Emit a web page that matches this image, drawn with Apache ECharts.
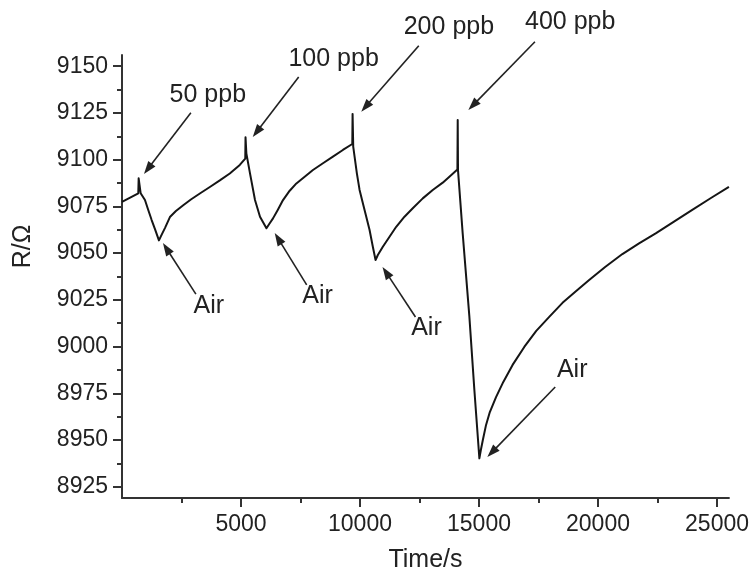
<!DOCTYPE html>
<html><head><meta charset="utf-8">
<script src="https://cdn.jsdelivr.net/npm/echarts@6/dist/echarts.min.js"></script>
<style>html,body{margin:0;padding:0;background:#fff}#c{width:752px;height:578px}</style>
</head><body><div id="c"></div>
<script>
// ---- data ----
const timeS = [0, 684, 700, 784, 965, 1103, 1246, 1397, 1552,
  1678, 1803, 2013, 2265, 2559, 2894, 3271, 3691, 4110, 4529, 4949, 5179,
  5190, 5225, 5378, 5588, 5798,
  6069, 6207, 6345, 6555, 6765, 7046, 7327, 7675, 8023, 8443, 8862, 9281, 9676,
  9688, 9715, 9772, 9868, 9982, 10120, 10263, 10402, 10539, 10653,
  10749, 10959, 11240, 11521, 11869, 12217, 12637, 13056, 13476, 13756, 14092,
  14105, 14118, 14314, 14595, 14805, 15015,
  15077, 15161, 15296, 15455, 15715, 16021, 16411, 16902, 17405, 17950, 18508, 19083,
  19628, 20299, 21024, 21724, 22424, 23192, 23960, 24745, 25500];
const resistance = [9077.4, 9082.0, 9090.0, 9082.0, 9078.4, 9073.1, 9067.7, 9062.4, 9056.8,
  9060.2, 9063.4, 9069.3, 9072.5, 9075.5, 9078.7, 9081.9, 9085.4, 9088.9, 9092.6, 9097.2, 9100.6,
  9112.0, 9103.4, 9092.7, 9078.4, 9069.5,
  9063.3, 9066.0, 9068.6, 9073.4, 9078.4, 9083.4, 9087.3, 9090.9, 9094.5, 9098.1, 9101.6, 9105.2, 9108.4,
  9124.5, 9107.0, 9101.6, 9092.7, 9083.8, 9076.7, 9069.5, 9062.4, 9053.4, 9046.3,
  9049.0, 9053.4, 9058.8, 9064.1, 9069.5, 9074.0, 9079.3, 9083.8, 9087.7, 9090.9, 9094.7,
  9121.2, 9094.3, 9060.6, 9016.0, 8976.8, 8940.2,
  8944.7, 8950.0, 8958.1, 8965.0, 8973.0, 8981.1, 8990.2, 8999.8, 9008.4, 9015.9, 9023.4, 9029.7,
  9035.6, 9042.6, 9049.5, 9055.2, 9060.6, 9066.9, 9073.1, 9079.5, 9085.5];

const xTickValues = [5000, 10000, 15000, 20000, 25000];
const xMinorTickValues = [2500, 7500, 12500, 17500, 22500];
const yTickValues = [8925, 8950, 8975, 9000, 9025, 9050, 9075, 9100, 9125, 9150];
const yMinorTickValues = [8937.5, 8962.5, 8987.5, 9012.5, 9037.5, 9062.5, 9087.5, 9112.5, 9137.5];

const annoTexts = ['50 ppb', '100 ppb', '200 ppb', '400 ppb', 'Air', 'Air', 'Air', 'Air'];
const annoTextX = [3607, 8891, 13735, 18831, 3649, 8220, 12792, 18915];
const annoTextY = [9134.6, 9153.9, 9171.0, 9173.7, 9021.7, 9027.1, 9010.0, 8987.5];
const arrowFromX = [2894, 7423, 12469, 17350, 3104, 7759, 12330, 18202];
const arrowFromY = [9125.1, 9144.2, 9161.0, 9163.1, 9028.1, 9033.0, 9015.8, 8978.4];
const arrowToX = [923, 5494, 10053, 14553, 1720, 6417, 10946, 15350];
const arrowToY = [9092.3, 9112.1, 9125.7, 9126.6, 9055.4, 9060.8, 9042.6, 8940.9];

const FONT = '"Liberation Sans", Arial, Helvetica, sans-serif';
const TXT = '#222';

const chart = echarts.init(document.getElementById('c'));
const seriesData = timeS.map((t, i) => [t, resistance[i]]);
const plain = v => String(v);

const axisLineStyle = { color: '#333', width: 2 };
chart.setOption({
  animation: false,
  backgroundColor: '#fff',
  grid: { left: 122, right: 22, top: 55, bottom: 80, containLabel: false },
  xAxis: [{
    type: 'value', min: 0, max: 25500, position: 'bottom',
    axisLine: { show: true, onZero: false, lineStyle: axisLineStyle },
    axisTick: { show: true, customValues: xTickValues, length: 9, lineStyle: { color: '#333', width: 2 } },
    axisLabel: { customValues: xTickValues, formatter: plain, margin: 15, fontSize: 23, color: TXT, fontFamily: FONT },
    splitLine: { show: false },
    name: 'Time/s', nameLocation: 'middle', nameGap: 50,
    nameTextStyle: { fontSize: 25, color: TXT, fontFamily: FONT }
  }, {
    type: 'value', min: 0, max: 25500, position: 'bottom',
    axisLine: { show: false, onZero: false },
    axisTick: { show: true, customValues: xMinorTickValues, length: 5, lineStyle: { color: '#333', width: 2 } },
    axisLabel: { show: false }, splitLine: { show: false }
  }],
  yAxis: [{
    type: 'value', min: 8919, max: 9156, position: 'left',
    axisLine: { show: true, onZero: false, lineStyle: axisLineStyle },
    axisTick: { show: true, customValues: yTickValues, length: 9, lineStyle: { color: '#333', width: 2 } },
    axisLabel: { customValues: yTickValues, formatter: plain, margin: 14, fontSize: 23, color: TXT, fontFamily: FONT },
    splitLine: { show: false },
    name: 'R/Ω', nameLocation: 'middle', nameGap: 86,
    nameTextStyle: { fontSize: 25, color: TXT, fontFamily: FONT, padding: [0, 0, 0, 60] }
  }, {
    type: 'value', min: 8919, max: 9156, position: 'left',
    axisLine: { show: false, onZero: false },
    axisTick: { show: true, customValues: yMinorTickValues, length: 5, lineStyle: { color: '#333', width: 2 } },
    axisLabel: { show: false }, splitLine: { show: false }
  }],
  series: [{
    type: 'line', xAxisIndex: 0, yAxisIndex: 0, data: seriesData,
    showSymbol: false, symbol: 'none',
    lineStyle: { color: '#151515', width: 2, join: 'round' }
  }]
});

// ---- annotations (positioned through the chart's own scales) ----
const graphics = [];
const toPx = (x, y) => chart.convertToPixel({ gridIndex: 0 }, [x, y]);
annoTexts.forEach((t, i) => {
  const p = toPx(annoTextX[i], annoTextY[i]);
  graphics.push({
    type: 'text', x: p[0], y: p[1], silent: true,
    style: { text: t, fontSize: 25, fontFamily: FONT, fill: TXT, align: 'center', verticalAlign: 'middle' }
  });
  const a = toPx(arrowFromX[i], arrowFromY[i]);
  const b = toPx(arrowToX[i], arrowToY[i]);
  const dx = b[0] - a[0], dy = b[1] - a[1];
  const L = Math.sqrt(dx * dx + dy * dy);
  const ux = dx / L, uy = dy / L;
  const headL = 13, headW = 4.5;
  const base = [b[0] - ux * headL, b[1] - uy * headL];
  graphics.push({
    type: 'line', silent: true,
    shape: { x1: a[0], y1: a[1], x2: base[0] + ux * 2, y2: base[1] + uy * 2 },
    style: { stroke: '#222', lineWidth: 1.6 }
  });
  graphics.push({
    type: 'polygon', silent: true,
    shape: { points: [b, [base[0] - uy * headW, base[1] + ux * headW], [base[0] + uy * headW, base[1] - ux * headW]] },
    style: { fill: '#222' }
  });
});
chart.setOption({ graphic: graphics });
</script>
</body></html>
